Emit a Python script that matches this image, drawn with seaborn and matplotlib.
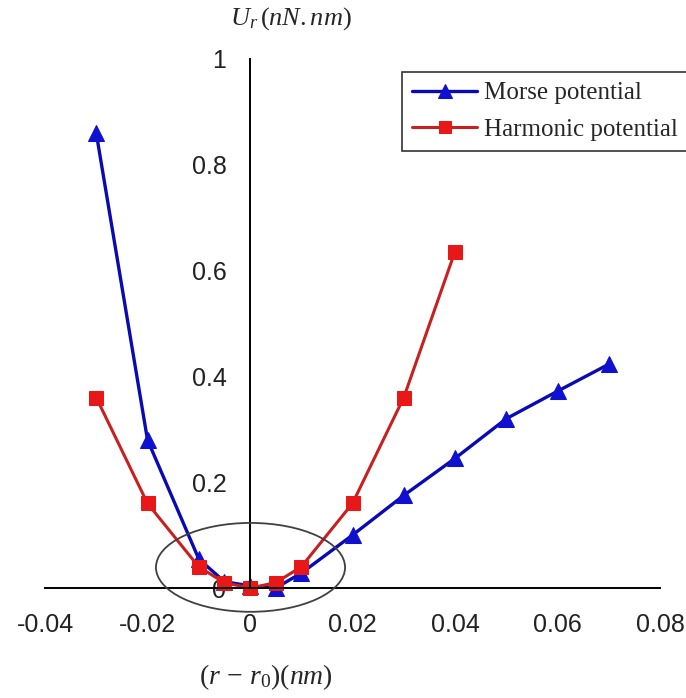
import matplotlib
matplotlib.use("Agg")
import matplotlib.pyplot as plt
from matplotlib.patches import Ellipse
import seaborn as sns

# ---- data ----
morse_x = [-0.03, -0.02, -0.01, -0.005, 0.0, 0.005, 0.01, 0.02, 0.03, 0.04, 0.05, 0.06, 0.07]
morse_u = [0.86, 0.28, 0.055, 0.012, 0.004, 0.0, 0.028, 0.10, 0.175, 0.245, 0.32, 0.372, 0.423]
harm_x = [-0.03, -0.02, -0.01, -0.005, 0.0, 0.005, 0.01, 0.02, 0.03, 0.04]
harm_u = [0.36, 0.16, 0.04, 0.01, 0.0, 0.01, 0.04, 0.16, 0.36, 0.636]
x_ticks = [-0.04, -0.02, 0.0, 0.02, 0.04, 0.06, 0.08]
x_tick_labels = ["-0.04", "-0.02", "0", "0.02", "0.04", "0.06", "0.08"]
y_ticks = [0.0, 0.2, 0.4, 0.6, 0.8, 1.0]
y_tick_labels = ["0", "0.2", "0.4", "0.6", "0.8", "1"]
series_labels = ["Morse potential", "Harmonic potential"]

sns.set_style("white")
plt.rcParams["font.family"] = ["Liberation Sans", "DejaVu Sans"]
plt.rcParams["mathtext.fontset"] = "custom"
plt.rcParams["mathtext.rm"] = "Liberation Serif"
plt.rcParams["mathtext.it"] = "Liberation Serif:italic"
plt.rcParams["axes.unicode_minus"] = False

W, H = 686, 698
fig = plt.figure(figsize=(W / 100, H / 100), dpi=100)
ax = fig.add_axes([45 / W, 110 / H, 615 / W, 529 / H])

blue_line = "#0A0AB4"
blue_mark = "#1010D0"
red_line = "#C82020"
red_mark = "#E81818"

sns.lineplot(x=morse_x, y=morse_u, ax=ax, color=blue_line, marker="^", markersize=12,
             markerfacecolor=blue_mark, markeredgecolor=blue_mark, linewidth=2.4,
             label=series_labels[0], sort=False, clip_on=False)
sns.lineplot(x=harm_x, y=harm_u, ax=ax, color=red_line, marker="s", markersize=10,
             markerfacecolor=red_mark, markeredgecolor=red_mark, linewidth=2.2,
             label=series_labels[1], sort=False, clip_on=False)

ax.set_xlim(-0.04, 0.08)
ax.set_ylim(0, 1)
ax.set_xticks(x_ticks)
ax.set_xticklabels(x_tick_labels)
ax.set_yticks(y_ticks)
ax.set_yticklabels(y_tick_labels)
ax.set_xlabel("")
ax.set_ylabel("")

for s in ["top", "right"]:
    ax.spines[s].set_visible(False)
ax.spines["left"].set_position(("data", 0))
for s in ["left", "bottom"]:
    ax.spines[s].set_color("black")
    ax.spines[s].set_linewidth(1.4)

ax.tick_params(axis="x", direction="out", length=6, width=1.4, pad=12,
               labelsize=18, colors="black", labelcolor="#222222")
ax.tick_params(axis="y", direction="out", length=7, width=1.4, pad=10,
               labelsize=18, colors="black", labelcolor="#222222")
ax.grid(False)

ell = Ellipse((0.0001, 0.039), width=0.0369, height=0.168, fill=False,
              edgecolor="#404040", linewidth=1.3, clip_on=False, zorder=5)
ax.add_patch(ell)

leg = ax.legend(loc="upper left", bbox_to_anchor=(402 / W, 1 - 72 / H),
                bbox_transform=fig.transFigure, frameon=True, fancybox=False,
                prop={"family": "Liberation Serif", "size": 18},
                handlelength=2.6, handletextpad=0.3, labelspacing=0.55,
                borderpad=0.4, borderaxespad=0, numpoints=1, markerscale=0.8)
leg.get_frame().set_edgecolor("black")
leg.get_frame().set_linewidth(1.2)

fig.text(291 / W, 1 - 19 / H, r"$U_r\,(\mathit{nN.nm})$", ha="center", va="center", fontsize=19)
fig.text(266 / W, 1 - 677 / H, r"$(r\,-\,r_0)(nm)$", ha="center", va="center", fontsize=20)

fig.savefig("out.png", dpi=100)
